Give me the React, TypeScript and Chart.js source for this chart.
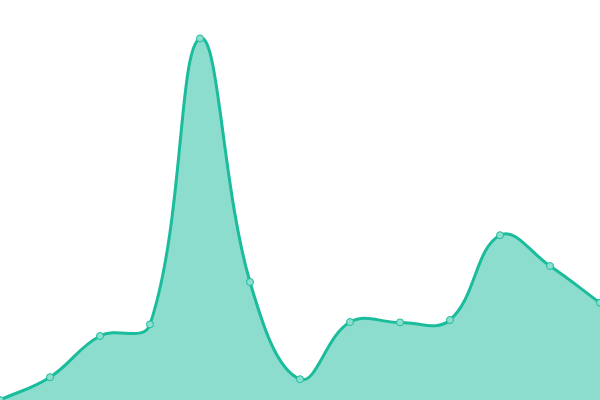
import React, { useEffect, useRef } from "react";
import { Chart, registerables } from "chart.js";

Chart.register(...registerables);

const categories = ["1", "2", "3", "4", "5", "6", "7", "8", "9", "10", "11", "12", "13"];
const values = [0, 5.7, 16, 18.9, 90.4, 29.5, 5.2, 19.5, 19.4, 20, 41.2, 33.5, 24.3];
const yMin = 0;
const yMax = 100;

export default function App() {
  const ref = useRef<HTMLCanvasElement | null>(null);
  useEffect(() => {
    document.body.style.margin = "0";
    if (!ref.current) return;
    const chart = new Chart(ref.current, {
      type: "line",
      data: {
        labels: categories,
        datasets: [
          {
            data: values,
            fill: true,
            backgroundColor: "rgba(26,188,156,0.5)",
            borderColor: "#1abc9c",
            borderWidth: 3,
            tension: 0.4,
            pointRadius: 3.5,
            pointBorderWidth: 1,
            pointBackgroundColor: "#8cdece",
            pointBorderColor: "#1abc9c",
          },
        ],
      },
      options: {
        responsive: false,
        animation: false,
        layout: { padding: 0, autoPadding: false },
        plugins: { legend: { display: false }, tooltip: { enabled: false } },
        scales: {
          x: { display: false },
          y: { display: false, min: yMin, max: yMax },
        },
      },
    });
    return () => chart.destroy();
  }, []);
  return (
    <div style={{ position: "fixed", top: 0, left: 0, width: 600, height: 400 }}>
      <canvas ref={ref} width={600} height={400} />
    </div>
  );
}
